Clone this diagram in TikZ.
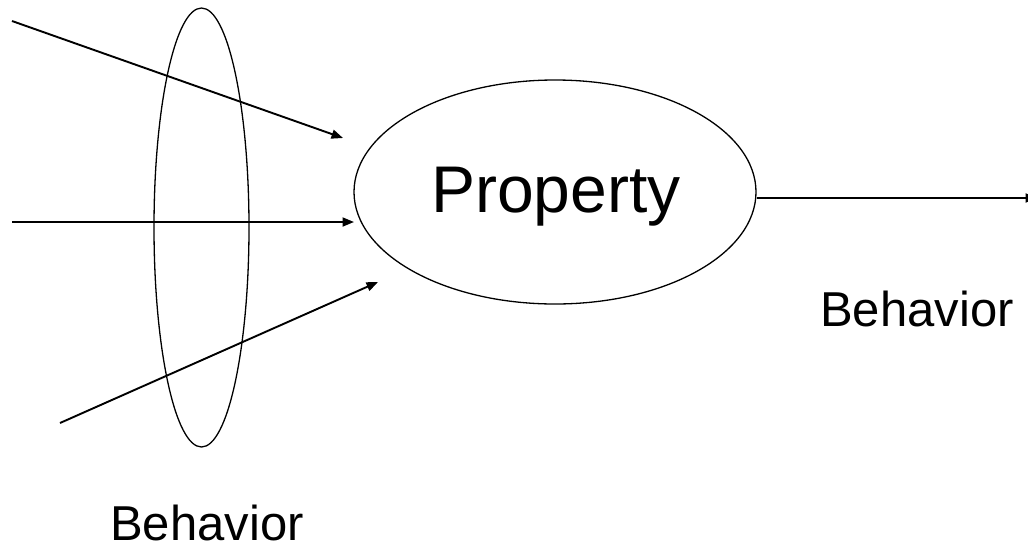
\documentclass[tikz,border=0pt]{standalone}
\usepackage{fontspec}
\setmainfont{Liberation Sans}
\usetikzlibrary{shapes.geometric,arrows.meta}
\tikzset{
  oval/.style={ellipse, draw, line width=1.3pt, inner sep=0pt},
  conn/.style={line width=1.9pt, -{Triangle[length=11.5pt,width=9pt]}},
  lbl/.style={anchor=base, inner sep=0pt, font=\fontsize{49}{55}\selectfont},
}
\begin{document}
\begin{tikzpicture}[x=1pt,y=-1pt]
\useasboundingbox (0,0) rectangle (1028,547);
\node[oval, minimum width=402pt, minimum height=224pt] (prop) at (555,192) {};
\node[anchor=base, inner sep=0pt, font=\fontsize{66}{72}\selectfont] (proptext) at (556,212) {Property};
\node[oval, minimum width=95pt, minimum height=439pt] (group) at (201.5,227.5) {};
\coordinate (s1) at (12,21);
\coordinate (e1) at (343,138);
\coordinate (s2) at (12,222);
\coordinate (e2) at (354,222);
\coordinate (s3) at (60,423);
\coordinate (e3) at (378,282);
\coordinate (out) at (1037,198);
\draw[conn] (s1) -- (e1);
\draw[conn] (s2) -- (e2);
\draw[conn] (s3) -- (e3);
\draw[conn] (prop.east |- out) -- (out);
\node[lbl] (behout) at (917,326) {Behavior};
\node[lbl] (behin) at (207,540) {Behavior};
\end{tikzpicture}
\end{document}
